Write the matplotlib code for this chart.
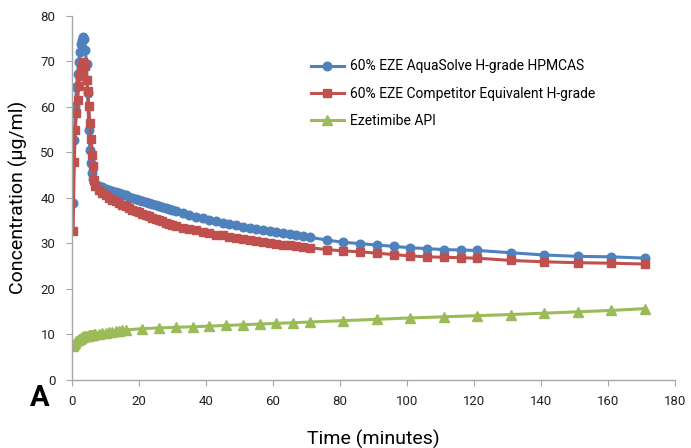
import matplotlib
matplotlib.use("Agg")
import matplotlib.pyplot as plt

# sampling times (min): every 20 s for the first 7 min, then sparser
t_early = [round(k / 3, 2) for k in range(1, 22)]
t_mid = list(range(8, 32)) + list(range(33, 72, 2))
t_late = list(range(76, 122, 5)) + list(range(131, 172, 10))
time_sd = t_early + t_mid + t_late

aquasolve = [38.9, 52.8, 60.2, 64.3, 67.2, 69.8, 72.0, 73.8, 74.8, 75.3, 75.0,
             72.5, 69.5, 63.0, 55.0, 50.6, 47.6, 45.5, 44.2, 43.5, 43.0,
             # 8 .. 31
             42.6, 42.3, 42.0, 41.7, 41.5, 41.2, 41.0, 40.8, 40.5, 40.2,
             40.0, 39.7, 39.5, 39.3, 39.1, 38.9, 38.6, 38.4, 38.2, 38.0,
             37.7, 37.5, 37.2, 37.0,
             # 33 .. 71 step 2
             36.6, 36.2, 35.8, 35.5, 35.1, 34.8, 34.5, 34.2, 33.9, 33.6,
             33.3, 33.1, 32.8, 32.6, 32.4, 32.2, 32.0, 31.8, 31.6, 31.3,
             # 76 .. 171
             30.7, 30.2, 29.9, 29.6, 29.3, 29.0, 28.8, 28.6, 28.5, 28.4,
             27.9, 27.4, 27.1, 27.0, 26.7]

competitor = [32.6, 47.9, 55.0, 58.6, 61.5, 64.5, 66.7, 68.2, 69.3, 69.8, 69.5,
              68.9, 66.0, 63.4, 60.2, 56.4, 53.0, 49.4, 46.9, 44.0, 42.5,
              # 8 .. 31
              41.8, 41.1, 40.5, 40.0, 39.6, 39.2, 38.8, 38.5, 38.1, 37.8,
              37.4, 37.1, 36.8, 36.5, 36.2, 35.9, 35.6, 35.3, 35.0, 34.8,
              34.5, 34.2, 34.0, 33.8,
              # 33 .. 71 step 2
              33.4, 33.1, 32.8, 32.5, 32.2, 31.9, 31.7, 31.4, 31.2, 30.9,
              30.7, 30.5, 30.3, 30.1, 29.9, 29.7, 29.5, 29.4, 29.2, 29.0,
              # 76 .. 171
              28.6, 28.3, 28.1, 27.8, 27.5, 27.2, 27.0, 26.9, 26.8, 26.7,
              26.2, 25.9, 25.7, 25.6, 25.4]

time_api = t_early + list(range(8, 17)) + list(range(21, 72, 5)) + list(range(81, 172, 10))
api = [7.4, 7.8, 8.1, 8.4, 8.65, 8.85, 9.0, 9.15, 9.3, 9.4, 9.5,
       9.55, 9.6, 9.65, 9.7, 9.75, 9.8, 9.85, 9.9, 9.95, 10.0,
       10.1, 10.2, 10.3, 10.4, 10.5, 10.6, 10.7, 10.8, 10.9,
       11.2, 11.35, 11.5, 11.6, 11.75, 11.9, 12.05, 12.2, 12.35, 12.5, 12.65,
       12.95, 13.25, 13.55, 13.8, 14.05, 14.3, 14.6, 14.9, 15.2, 15.6]

plt.rcParams["font.family"] = ["Roboto", "DejaVu Sans"]

fig = plt.figure(figsize=(6.91, 4.48), dpi=100)
ax = fig.add_axes([0.1042, 0.1529, 0.8726, 0.8114])

blue, red, green = "#4F81BD", "#C0504D", "#9BBB59"
ax.plot(time_sd, aquasolve, color=blue, lw=2.2, marker="o", ms=6.2,
        label="60% EZE AquaSolve H-grade HPMCAS")
ax.plot(time_sd, competitor, color=red, lw=2.2, marker="s", ms=6.0,
        label="60% EZE Competitor Equivalent H-grade")
ax.plot(time_api, api, color=green, lw=2.2, marker="^", ms=6.5,
        label="Ezetimibe API")

ax.set_xlim(0, 180)
ax.set_ylim(0, 80)
ax.set_xticks(range(0, 181, 20))
ax.set_yticks(range(0, 81, 10))

for s in ("top", "right"):
    ax.spines[s].set_visible(False)
for s in ("left", "bottom"):
    ax.spines[s].set_color("#A6A6A6")
    ax.spines[s].set_linewidth(1.0)
ax.tick_params(colors="#A6A6A6", labelcolor="#222222", length=4,
               labelsize=9.5, direction="out")
ax.tick_params(axis="y", pad=8)
ax.tick_params(axis="x", pad=7)

ax.set_xlabel("Time (minutes)", fontsize=14, labelpad=16)
ax.set_ylabel("Concentration (\u00b5g/ml)", fontsize=14, labelpad=9)

fig.text(0.057, 0.112, "A", fontsize=21, fontweight="bold", ha="center", va="center")

ax.legend(loc="upper left", bbox_to_anchor=(0.375, 0.915), frameon=False,
          fontsize=10, handlelength=2.4, labelspacing=0.95, handletextpad=0.4)

fig.savefig("out.png", dpi=100)
